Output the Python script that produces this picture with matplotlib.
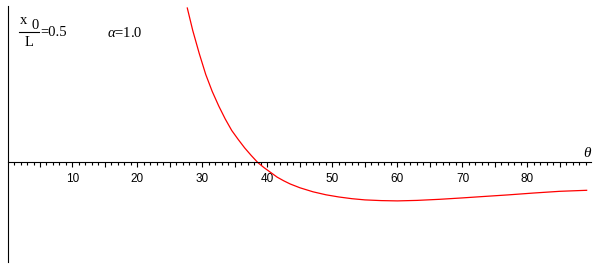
import numpy as np
import matplotlib
matplotlib.use('Agg')
import matplotlib.pyplot as plt
from matplotlib.ticker import FixedLocator, FuncFormatter

# curve (theta in degrees, value in arbitrary units)
theta = [27.66, 28.5, 29.5, 30.5, 31.5, 32.5, 33.5, 34.5, 35.5, 36.5, 37.5,
         38.5, 39.5, 40.5, 41.5, 42.5, 43.5, 45.0, 47.0, 49.0, 51.0, 53.0,
         55.0, 57.5, 60.0, 63.0, 66.5, 70.0, 73.0, 77.0, 81.0, 85.0, 89.1]
value = [1.535, 1.31, 1.08, 0.87, 0.70, 0.555, 0.425, 0.31, 0.22, 0.135,
         0.06, -0.01, -0.063, -0.11, -0.157, -0.193, -0.225, -0.263, -0.303,
         -0.333, -0.355, -0.372, -0.384, -0.391, -0.394, -0.389, -0.378,
         -0.364, -0.351, -0.334, -0.315, -0.298, -0.288]

x0_over_L = 0.5
alpha = 1.0

plt.rcParams['font.family'] = ['Liberation Sans', 'DejaVu Sans']
plt.rcParams['mathtext.fontset'] = 'custom'
plt.rcParams['mathtext.rm'] = 'Liberation Serif'
plt.rcParams['mathtext.it'] = 'Liberation Serif:italic'

W, H = 601, 265
fig = plt.figure(figsize=(W / 100, H / 100), dpi=100)
ax = fig.add_axes([0, 0, 1, 1])
ax.plot(theta, value, color='red', lw=0.9)

ax.set_xlim(-1.154, 91.31)
ax.set_ylim(-1.035, 1.615)

# axes through the origin
ax.spines['top'].set_visible(False)
ax.spines['right'].set_visible(False)
ax.spines['left'].set_position(('data', 0))
ax.spines['bottom'].set_position(('data', 0))
ax.spines['left'].set_bounds(-1.005, 1.555)
ax.spines['bottom'].set_bounds(0, 89.8)
for s in ['left', 'bottom']:
    ax.spines[s].set_linewidth(0.8)
ax.yaxis.set_visible(False)

ax.xaxis.set_major_locator(FixedLocator(np.arange(5, 90, 5)))
ax.xaxis.set_minor_locator(FixedLocator(np.arange(1, 90)))
ax.xaxis.set_major_formatter(FuncFormatter(
    lambda v, p: '%d' % v if round(v) % 10 == 0 else ''))
ax.tick_params(axis='x', which='major', direction='out', length=3.6,
               width=0.8, pad=5, labelsize=8.5)
ax.tick_params(axis='x', which='minor', direction='out', length=2.2,
               width=0.8)
for t in ax.xaxis.get_major_ticks():
    if round(t.get_loc()) % 10 != 0:
        t.tick1line.set_markersize(2.9)

ax.text(89.3, 0.088, r'$\theta$', fontsize=11, ha='center', va='center')


# parameter labels, positions given in pixels from the top-left corner
def px(x, y):
    return x / W, 1 - y / H


serif = dict(transform=ax.transAxes, family='Liberation Serif', fontsize=10.5)
ax.text(*px(24, 20), 'x', ha='center', va='center', **serif)
ax.text(*px(35, 25.5), '0', ha='center', va='center', **serif)
ax.plot([19 / W, 39 / W], [1 - 32 / H] * 2, transform=ax.transAxes,
        color='black', lw=0.8)
ax.text(*px(29, 42.5), 'L', ha='center', va='center', **serif)
ax.text(*px(40, 33), '=%.1f' % x0_over_L, ha='left', va='center', **serif)
ax.text(*px(107, 33), r'$\alpha$=%.1f' % alpha, ha='left', va='center',
        **serif)

fig.savefig('out.png', dpi=100)
